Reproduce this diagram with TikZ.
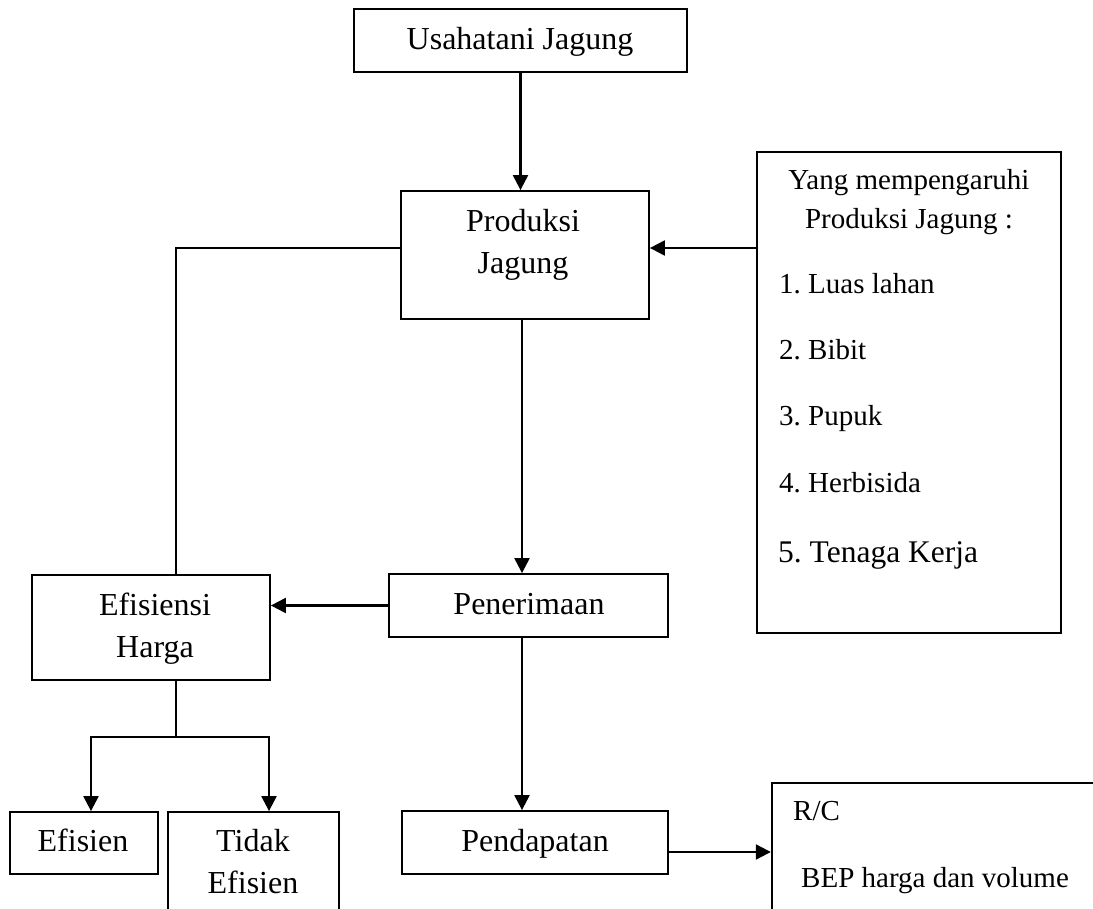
\documentclass[tikz,border=0pt]{standalone}
\usepackage{fontspec}
\setmainfont{Liberation Serif}
\usetikzlibrary{arrows.meta}
\frenchspacing
\begin{document}
\begin{tikzpicture}[x=1pt,y=-1pt,
  box/.style={draw, line width=1.8pt, inner sep=0pt, rectangle},
  txt/.style={font=\fontsize{32}{38}\selectfont, inner sep=0pt, anchor=base},
  item/.style={font=\fontsize{29}{35}\selectfont, inner sep=0pt, anchor=base west},
  arr/.style={line width=2.2pt, -{Triangle[length=15pt,width=15pt]}},
  ln/.style={line width=1.9pt}]
\useasboundingbox (0,0) rectangle (1093,909);
\clip (0,0) rectangle (1093,909);
% boxes
\node[box, minimum width=333pt, minimum height=63pt] (usaha) at (520.5,40.5) {};
\node[box, minimum width=248pt, minimum height=128pt] (prod) at (525,255) {};
\node[box, minimum width=304pt, minimum height=481pt] (yang) at (909,392.5) {};
\node[box, minimum width=238pt, minimum height=105pt] (eff) at (151,627.5) {};
\node[box, minimum width=279pt, minimum height=63pt] (pen) at (528.5,605.5) {};
\node[box, minimum width=148pt, minimum height=62pt] (efn) at (84,843) {};
\node[box, minimum width=171pt, minimum height=136pt] (tdk) at (253.5,880) {};
\node[box, minimum width=266pt, minimum height=63pt] (pend) at (535,842.5) {};
\node[box, line width=2.4pt, minimum width=376pt, minimum height=177pt] (rc) at (960,871.5) {};
% texts
\node[txt] (t1) at (520,50) {Usahatani Jagung};
\node[txt] (t2a) at (523,232) {Produksi};
\node[txt] (t2b) at (523,274) {Jagung};
\node[item, anchor=base] (t3a) at (909,190) {Yang mempengaruhi};
\node[item, anchor=base] (t3b) at (909,229) {Produksi Jagung :};
\node[item] (i1) at (779,294) {1. Luas lahan};
\node[item] (i2) at (779,360) {2. Bibit};
\node[item] (i3) at (779,425) {3. Pupuk};
\node[item] (i4) at (779,492) {4. Herbisida};
\node[item, font=\fontsize{31.5}{38}\selectfont] (i5) at (778,562) {5. Tenaga Kerja};
\node[txt] (t4a) at (155,615) {Efisiensi};
\node[txt] (t4b) at (155,657) {Harga};
\node[txt] (t5) at (529,614) {Penerimaan};
\node[txt] (t6) at (83,851) {Efisien};
\node[txt] (t7a) at (253,851) {Tidak};
\node[txt] (t7b) at (253,893) {Efisien};
\node[txt] (t8) at (535,851) {Pendapatan};
\node[item] (t9a) at (793,820) {R/C};
\node[item] (t9b) at (801,887) {BEP harga dan volume};
% connectors
\draw[arr] (usaha.south) -- (usaha.south |- prod.north);
\coordinate (pin) at ([yshift=7pt]prod.east);
\draw[arr] (yang.west |- pin) -- (pin);
\draw[ln] (prod.west |- pin) -| ([xshift=25pt]eff.north);
\draw[arr] ([xshift=-3pt]prod.south) -- ([xshift=-3pt]prod.south |- pen.north);
\draw[arr] (pen.west) -- (pen.west -| eff.east);
\coordinate (split) at ([xshift=25pt,yshift=-56pt]eff.south);
\draw[ln] ([xshift=25pt]eff.south) -- (split);
\draw[arr] (split) -| ([xshift=7pt]efn.north);
\draw[arr] (split) -| ([xshift=15.5pt]tdk.north);
\draw[arr] ([xshift=-6.5pt]pen.south) -- ([xshift=-6.5pt]pen.south |- pend.north);
\draw[arr] ([yshift=-9.5pt]pend.east) -- ([yshift=-9.5pt]pend.east -| rc.west);
\end{tikzpicture}
\end{document}
